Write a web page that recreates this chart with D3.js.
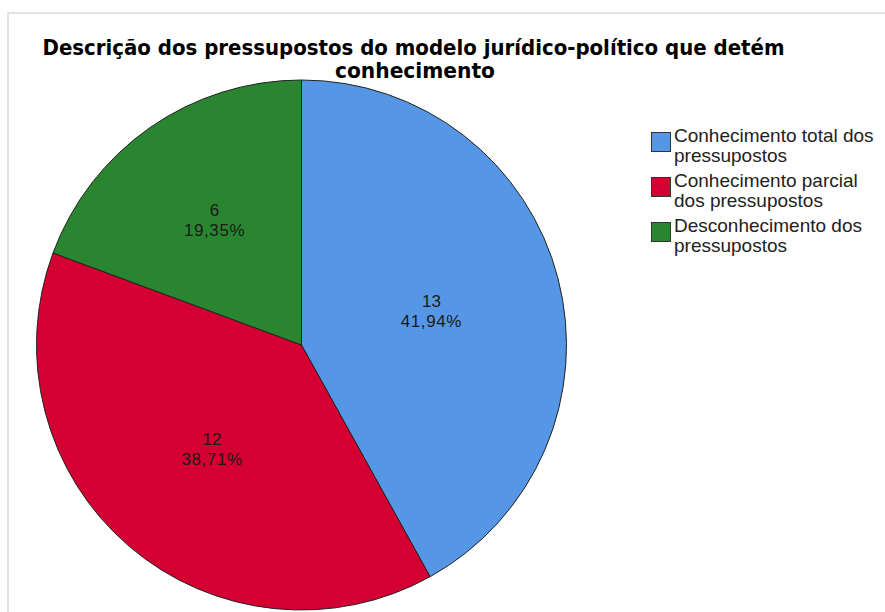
<!DOCTYPE html>
<html>
<head>
<meta charset="utf-8">
<script src="https://cdn.jsdelivr.net/npm/d3@7"></script>
<style>
  html, body { margin: 0; padding: 0; background: #fff; }
  svg { display: block; }
</style>
</head>
<body>
<div id="chart"></div>
<script>
// chart values
var categories = ["Conhecimento total dos pressupostos",
                  "Conhecimento parcial dos pressupostos",
                  "Desconhecimento dos pressupostos"];
var legendLines = [["Conhecimento total dos", "pressupostos"],
                   ["Conhecimento parcial", "dos pressupostos"],
                   ["Desconhecimento dos", "pressupostos"]];
var counts = [13, 12, 6];
var percentLabels = ["41,94%", "38,71%", "19,35%"];
var colors = ["#5697e5", "#d40032", "#2a8531"];
var titleLines = ["Descrição dos pressupostos do modelo jurídico-político que detém",
                  "conhecimento"];

var width = 885,
    height = 612;

var svg = d3.select("#chart")
    .append("svg")
    .attr("width", width)
    .attr("height", height);

// light frame of the output viewer
svg.append("rect")
    .attr("x", 8)
    .attr("y", 13)
    .attr("width", width + 20)
    .attr("height", height + 20)
    .attr("fill", "none")
    .attr("stroke", "#e3e3e3")
    .attr("stroke-width", 2);

// title
var title = svg.append("g")
    .attr("font-family", "'DejaVu Sans Condensed', 'DejaVu Sans', sans-serif")
    .attr("font-weight", "bold")
    .attr("font-size", 21)
    .attr("fill", "#000")
    .attr("text-anchor", "middle");

title.append("text")
    .attr("x", 413.5)
    .attr("y", 55)
    .attr("textLength", 742)
    .attr("lengthAdjust", "spacingAndGlyphs")
    .text(titleLines[0]);

title.append("text")
    .attr("x", 415)
    .attr("y", 78)
    .attr("textLength", 160)
    .attr("lengthAdjust", "spacingAndGlyphs")
    .text(titleLines[1]);

// pie
var cx = 301.5, cy = 345, radius = 265;

var pie = d3.pie()
    .sort(null)
    .value(function (d) { return d; });

var arc = d3.arc()
    .innerRadius(0)
    .outerRadius(radius);

var arcs = pie(counts);

var g = svg.append("g")
    .attr("transform", "translate(" + cx + "," + cy + ")");

g.selectAll("path")
    .data(arcs)
    .enter()
    .append("path")
    .attr("d", arc)
    .attr("fill", function (d, i) { return colors[i]; })
    .attr("stroke", "#222")
    .attr("stroke-width", 1);

// label position: between arc centroid and area centroid of the slice
function labelPos(d) {
    var theta = d.endAngle - d.startAngle;
    var mid = (d.startAngle + d.endAngle) / 2;
    var areaR = 4 * radius * Math.sin(theta / 2) / (3 * theta);
    var r = (0.5 * radius + areaR) / 2 + 3;
    return [r * Math.sin(mid), -r * Math.cos(mid)];
}

var labels = g.selectAll("text.lbl")
    .data(arcs)
    .enter()
    .append("text")
    .attr("class", "lbl")
    .attr("font-family", "'Liberation Sans', Arial, sans-serif")
    .attr("font-size", 17)
    .attr("fill", "#1a1a1a")
    .attr("text-anchor", "middle")
    .attr("transform", function (d) {
        var p = labelPos(d);
        return "translate(" + p[0] + "," + p[1] + ")";
    });

labels.append("tspan")
    .attr("x", 0)
    .attr("y", -4)
    .text(function (d) { return d.data; });

labels.append("tspan")
    .attr("x", 0)
    .attr("y", 16)
    .attr("letter-spacing", 0.6)
    .text(function (d, i) { return percentLabels[i]; });

// legend
var legend = svg.append("g")
    .selectAll("g")
    .data(categories)
    .enter()
    .append("g")
    .attr("class", "legend")
    .attr("transform", function (d, i) {
        return "translate(651," + (132 + i * 45) + ")";
    });

legend.append("rect")
    .attr("x", 0.5)
    .attr("y", 0.5)
    .attr("width", 19)
    .attr("height", 19)
    .attr("fill", function (d, i) { return colors[i]; })
    .attr("stroke", "#333")
    .attr("stroke-width", 1);

var legendText = legend.append("text")
    .attr("font-family", "'Liberation Sans', Arial, sans-serif")
    .attr("font-size", 19)
    .attr("fill", "#222");

legendText.selectAll("tspan")
    .data(function (d, i) { return legendLines[i]; })
    .enter()
    .append("tspan")
    .attr("x", 23)
    .attr("y", function (d, j) { return 10 + j * 20; })
    .text(function (d) { return d; });
</script>
</body>
</html>
